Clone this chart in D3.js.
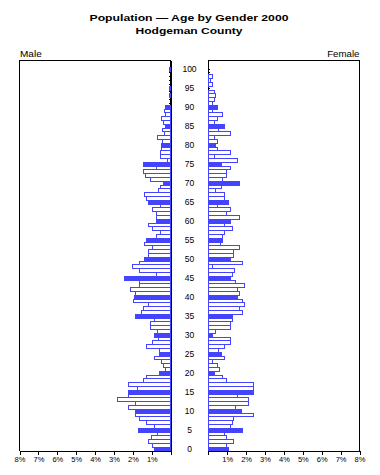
<!DOCTYPE html>
<html><head><meta charset="utf-8">
<script src="https://cdn.jsdelivr.net/npm/d3@7"></script>
<style>
html,body{margin:0;padding:0;background:#fff;}
svg{display:block;}
text{font-family:"Liberation Sans",Arial,sans-serif;fill:#000;}
</style></head>
<body>
<svg id="chart" width="380" height="475"></svg>
<script>
// ---- data ----
const ages = [0,1,2,3,4,5,6,7,8,9,10,11,12,13,14,15,16,17,18,19,20,21,22,23,24,25,26,27,28,29,30,31,32,33,34,35,36,37,38,39,40,41,42,43,44,45,46,47,48,49,50,51,52,53,54,55,56,57,58,59,60,61,62,63,64,65,66,67,68,69,70,71,72,73,74,75,76,77,78,79,80,81,82,83,84,85,86,87,88,89,90,91,92,93,94,95,96,97,98,99,100];
const male = [0.88,0.98,1.20,1.02,0.70,1.69,0.88,1.30,1.65,1.86,
  1.86,2.25,1.86,2.81,2.25,2.25,1.76,2.25,1.44,1.30,
  0.60,0.28,0.39,0.49,0.84,0.60,0.60,1.30,0.95,0.67,
  0.88,0.70,1.09,1.09,0.84,1.86,1.55,1.44,1.16,1.97,
  1.90,1.86,2.15,1.65,1.65,2.46,0.77,1.65,2.04,1.65,
  1.41,1.16,1.16,0.98,1.37,1.30,0.77,0.56,0.98,1.16,
  0.74,0.74,0.74,0.95,0.56,1.16,1.27,1.37,0.67,0.56,
  0.39,1.05,1.34,1.44,0.74,1.44,0.15,0.53,0.56,0.49,
  0.49,0.42,0.70,0.35,0.46,0.28,0.39,0.49,0.25,0.35,
  0.28,0,0,0.07,0,0.07,0,0,0,0,0.07];
const female = [1.09,0.95,1.34,0.95,0.84,1.83,1.16,1.27,1.34,2.39,
  1.76,1.44,2.11,2.11,1.55,2.39,2.39,2.39,0.95,0.74,
  0.35,0.60,0.49,0.21,0.84,0.70,0.56,0.84,1.16,1.16,
  0.21,0.39,1.16,1.16,1.27,1.27,1.79,1.65,1.90,1.79,
  1.55,1.65,1.55,1.90,1.44,1.16,1.27,1.41,0.21,1.79,
  1.16,1.34,1.34,1.65,0.67,0.74,0.74,0.84,1.27,0.84,
  1.16,1.65,0.95,1.16,0.49,1.05,0.84,0.84,0.39,0.70,
  1.65,0.74,0.95,0.95,1.16,0.70,1.55,0.32,1.16,0.49,
  0.39,0.49,0.32,1.16,0.56,0.84,0.35,0.49,0.74,0.21,
  0.49,0.21,0.32,0.39,0.32,0,0.21,0.10,0.21,0,0];
const ageLabels = [0,5,10,15,20,25,30,35,40,45,50,55,60,65,70,75,80,85,90,95,100];
const pctTicks = [1,2,3,4,5,6,7,8];
const titleLines = ["Population \u2014 Age by Gender 2000","Hodgeman County"];

// ---- layout ----
const blue = "#4444ff";
const plotTop = 60.5, plotBottom = 451;
const y = d3.scaleLinear().domain([0, (plotBottom-plotTop)/3.8]).range([plotBottom, plotTop]);
const xL = d3.scaleLinear().domain([0, 8]).range([170.7, 19.5]);
const xR = d3.scaleLinear().domain([0, 8]).range([208.3, 359.5]);

const svg = d3.select("#chart");

// titles
svg.append("text").attr("x",189).attr("y",20.5).attr("text-anchor","middle")
  .attr("font-weight","bold").attr("font-size",9.5)
  .attr("textLength",199).attr("lengthAdjust","spacingAndGlyphs").text(titleLines[0]);
svg.append("text").attr("x",189).attr("y",33.5).attr("text-anchor","middle")
  .attr("font-weight","bold").attr("font-size",9.5)
  .attr("textLength",107).attr("lengthAdjust","spacingAndGlyphs").text(titleLines[1]);

svg.append("text").attr("x",20).attr("y",57.3).attr("font-size",9)
  .attr("textLength",21.7).attr("lengthAdjust","spacingAndGlyphs").text("Male");
svg.append("text").attr("x",359.5).attr("y",57.3).attr("font-size",9).attr("text-anchor","end")
  .attr("textLength",32.3).attr("lengthAdjust","spacingAndGlyphs").text("Female");

// frames
const frame = svg.append("g").attr("stroke","#000").attr("stroke-width",1).attr("fill","none")
  .attr("shape-rendering","crispEdges");
frame.append("path").attr("d",`M${xL(0)},${plotBottom}V${plotTop}H${xL(8)}V${plotBottom}`);
frame.append("path").attr("d",`M${xR(0)},${plotBottom}V${plotTop}H${xR(8)}V${plotBottom}`);

// age ticks (inward)
const tk = svg.append("g").attr("stroke","#000").attr("stroke-width",1).attr("shape-rendering","crispEdges");
ages.forEach(a=>{
  const yc = (y(a)+y(a+1))/2;
  tk.append("line").attr("x1",xL(0)-2).attr("x2",xL(0)).attr("y1",yc).attr("y2",yc);
  tk.append("line").attr("x1",xR(0)).attr("x2",xR(0)+2).attr("y1",yc).attr("y2",yc);
});

// bars
const bars = svg.append("g").attr("stroke",blue).attr("stroke-width",1).attr("shape-rendering","crispEdges");
bars.selectAll("rect.m").data(ages).join("rect").attr("class","m")
  .attr("x",a=>xL(male[a])).attr("width",a=>xL(0)-xL(male[a]))
  .attr("y",a=>y(a+1)).attr("height",a=>y(a)-y(a+1))
  .attr("fill",a=>a%5===0?blue:"#fff");
bars.selectAll("rect.f").data(ages).join("rect").attr("class","f")
  .attr("x",xR(0)).attr("width",a=>xR(female[a])-xR(0))
  .attr("y",a=>y(a+1)).attr("height",a=>y(a)-y(a+1))
  .attr("fill",a=>a%5===0?blue:"#fff");

// zero line on left panel (black, over bars)
svg.append("line").attr("x1",xL(0)+0.8).attr("x2",xL(0)+0.8).attr("y1",plotTop).attr("y2",plotBottom)
  .attr("stroke","#000").attr("shape-rendering","crispEdges");

// age labels
svg.append("g").selectAll("text").data(ageLabels).join("text")
  .attr("x",189.5).attr("y",a=>(y(a)+y(a+1))/2+3).attr("text-anchor","middle")
  .attr("font-size",8.5).text(a=>a);

// percent axes
const axL = d3.axisBottom(xL).tickValues(pctTicks).tickFormat(d=>d+"%").tickSize(4).tickPadding(2);
const axR = d3.axisBottom(xR).tickValues(pctTicks).tickFormat(d=>d+"%").tickSize(4).tickPadding(2);
[axL, axR].forEach(ax=>{
  const g = svg.append("g").attr("transform",`translate(0,${plotBottom})`).call(ax);
  g.select(".domain").attr("shape-rendering","crispEdges");
  g.selectAll(".tick line").attr("shape-rendering","crispEdges");
  g.selectAll("text").attr("font-size",7.5).attr("font-family","Liberation Sans, Arial, sans-serif");
});
</script>
</body></html>
